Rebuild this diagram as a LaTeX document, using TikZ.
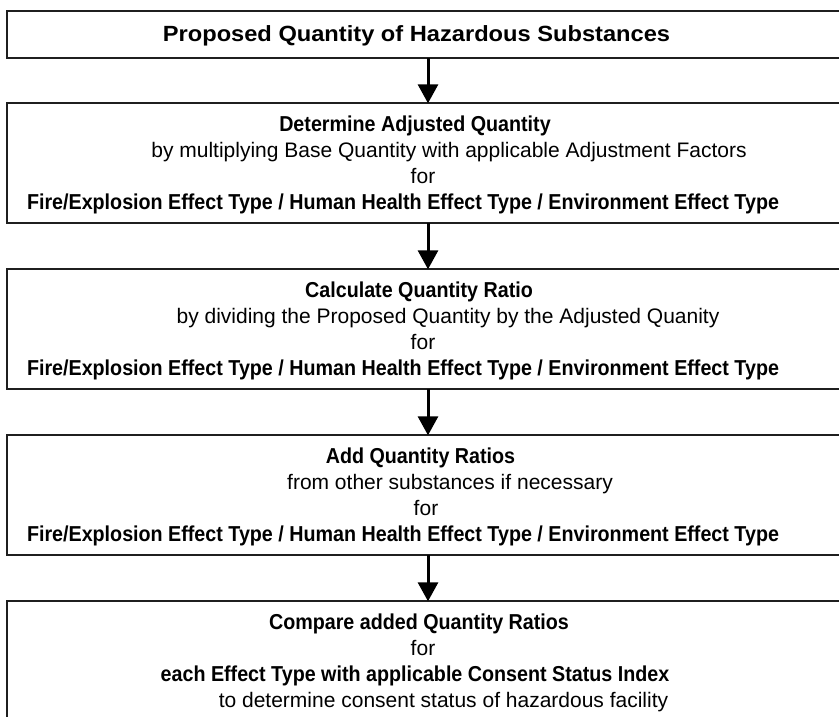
\documentclass[tikz,border=0pt]{standalone}
\usepackage{fontspec}
\setmainfont{Liberation Sans}
\usetikzlibrary{arrows.meta}
\newcommand{\boldline}[1]{{\fontsize{21.6pt}{24pt}\selectfont\bfseries\scalebox{0.912}[1]{#1}}}
\newcommand{\regline}[1]{{\fontsize{21pt}{24pt}\selectfont #1}}
\newcommand{\titleline}[1]{{\fontsize{22pt}{24pt}\selectfont\bfseries\scalebox{1.075}[1]{#1}}}
\begin{document}
\begin{tikzpicture}[x=1pt,y=-1pt,
  flowbox/.style={draw=black!88, line width=2pt, minimum width=842.6pt, minimum height=#1, inner sep=0pt, outer sep=0pt, anchor=north west},
  txt/.style={inner sep=0pt, outer sep=0pt, anchor=base},
  arr/.style={line width=3pt, -{Triangle[length=19pt,width=20pt]}}]
\useasboundingbox (0,0) rectangle (839,716);
\clip (0,0) rectangle (839,716);
\fill[white] (0,0) rectangle (839,716);
% boxes
\node[flowbox=47.6pt] (b1) at (6.7,10.7) {};
\node[flowbox=120pt] (b2) at (6.7,103.3) {};
\node[flowbox=120pt] (b3) at (6.7,269.3) {};
\node[flowbox=120pt] (b4) at (6.7,435.3) {};
\node[flowbox=120pt] (b5) at (6.7,601.3) {};
% arrows
\draw[arr] (b1.south) -- (b2.north);
\draw[arr] (b2.south) -- (b3.north);
\draw[arr] (b3.south) -- (b4.north);
\draw[arr] (b4.south) -- (b5.north);
% box 1
\node[txt] (t11) at (416.5,41.7) {\titleline{Proposed Quantity of Hazardous Substances}};
% box 2
\node[txt] (t21) at (415,131.8) {\boldline{Determine Adjusted Quantity}};
\node[txt] (t22) at (449,157.6) {\regline{by multiplying Base Quantity with applicable Adjustment Factors}};
\node[txt] (t23) at (423,183.4) {\regline{for}};
\node[txt] (t24) at (403,209.2) {\boldline{Fire/Explosion Effect Type / Human Health Effect Type / Environment Effect Type}};
% box 3
\node[txt] (t31) at (419,297.8) {\boldline{Calculate Quantity Ratio}};
\node[txt] (t32) at (448,323.6) {\regline{by dividing the Proposed Quantity by the Adjusted Quanity}};
\node[txt] (t33) at (423,349.4) {\regline{for}};
\node[txt] (t34) at (403,375.2) {\boldline{Fire/Explosion Effect Type / Human Health Effect Type / Environment Effect Type}};
% box 4
\node[txt] (t41) at (420.5,463.8) {\boldline{Add Quantity Ratios}};
\node[txt] (t42) at (450,489.6) {\regline{from other substances if necessary}};
\node[txt] (t43) at (426,515.4) {\regline{for}};
\node[txt] (t44) at (403,541.2) {\boldline{Fire/Explosion Effect Type / Human Health Effect Type / Environment Effect Type}};
% box 5
\node[txt] (t51) at (419,629.8) {\boldline{Compare added Quantity Ratios}};
\node[txt] (t52) at (423,655.6) {\regline{for}};
\node[txt] (t53) at (415,681.4) {\boldline{each Effect Type with applicable Consent Status Index}};
\node[txt] (t54) at (443.5,707.2) {\regline{to determine consent status of hazardous facility}};
\end{tikzpicture}
\end{document}
